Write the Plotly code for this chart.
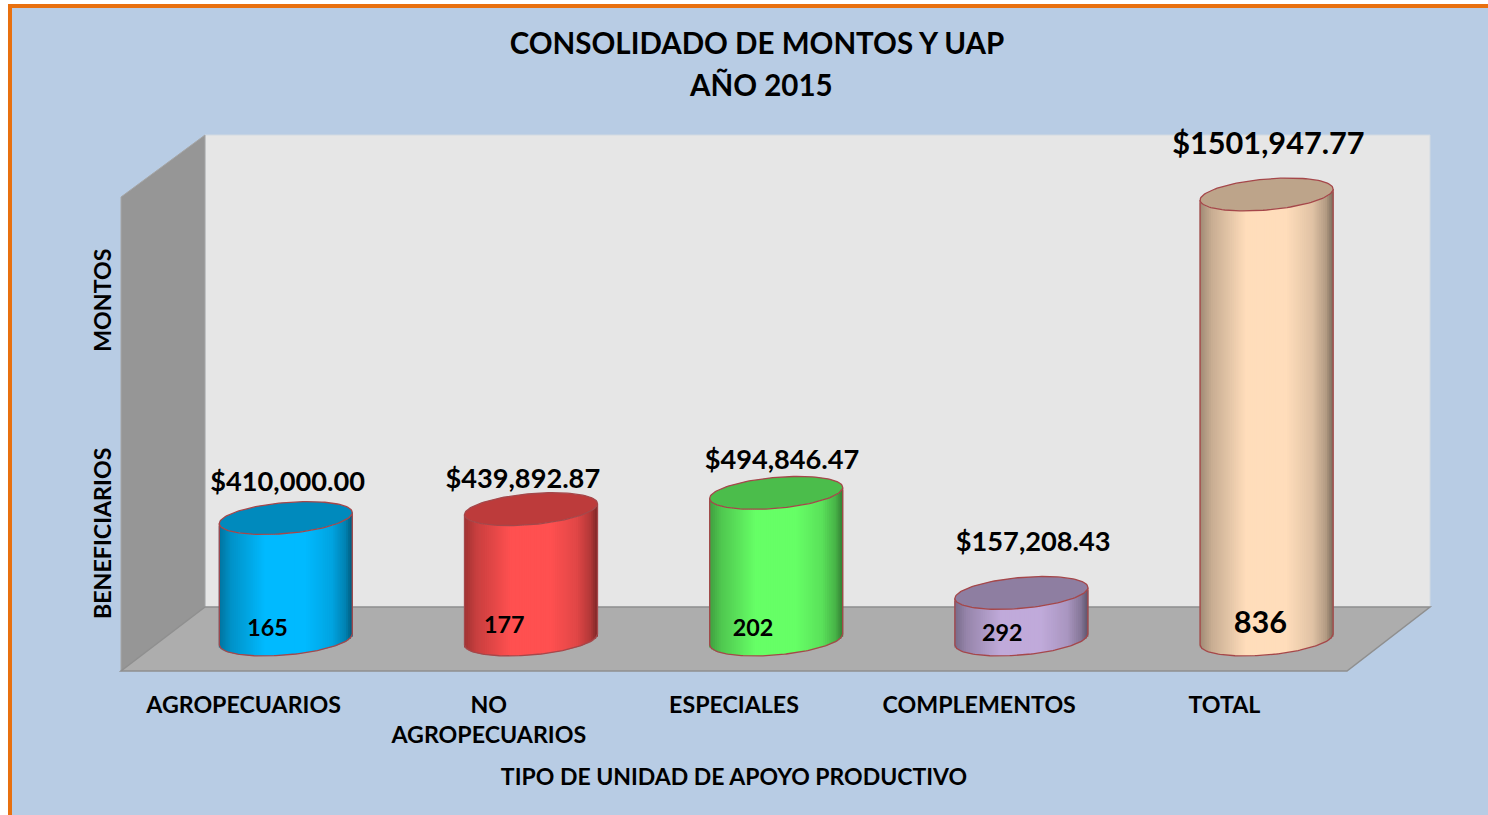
import plotly.graph_objects as go
import numpy as np

# ---- data ----
categories = ["AGROPECUARIOS", "NO<br>AGROPECUARIOS", "ESPECIALES", "COMPLEMENTOS", "TOTAL"]
montos = [410000.00, 439892.87, 494846.47, 157208.43, 1501947.77]
monto_labels = ["$410,000.00", "$439,892.87", "$494,846.47", "$157,208.43", "$1501,947.77"]
beneficiarios = [165, 177, 202, 292, 836]

# ---- styles ----
body_colors = [(0, 186, 255), (255, 80, 80), (102, 255, 102), (192, 170, 218), (255, 221, 187)]
OUTLINE = "#A5474A"
FONT = "Lato"

# ---- page geometry (pixels) ----
W, H = 1488, 815
PL, PR, PT, PB = 121, 1347, 135, 671      # plot area
PX_PER_CAT = (PR - PL) / 5
PX_PER_VAL = 445 / 1501947.77
BASE_PX = 639.5                            # pixel row of value 0
y_min = -(PB - BASE_PX) / PX_PER_VAL
y_max = (BASE_PX - PT) / PX_PER_VAL

def px(v):
    return (v - PL) / (PR - PL)
def py(v):
    return (PB - v) / (PB - PT)
def dxv(p):
    return p / PX_PER_CAT
def dyv(p):
    return p / PX_PER_VAL

# cylinder look
CYL_SHIFT = 42.2      # px right of the category centre (3-D depth)
A, B, TILT = 66.5, 15.5, 5.5

def shade(u):
    return np.interp(u, [-1, -0.82, -0.3, 0.3, 0.7, 0.9, 1], [0.62, 0.78, 1, 1, 0.88, 0.7, 0.5])

def rgb(c, f=1.0):
    return "rgb(%d,%d,%d)" % tuple(int(round(v * f)) for v in c)

def front(u):
    """vertical offset (px, up) of the front rim at relative position u"""
    return TILT * u - B * np.sqrt(np.clip(1 - u * u, 0, 1))

fig = go.Figure()
t = np.linspace(0, 2 * np.pi, 121)
N = 70
strip_u = (np.arange(N) + 0.5) / N * 2 - 1

for i, val in enumerate(montos):
    cx = i + dxv(CYL_SHIFT)
    # shaded body: many thin upright bars
    xs = cx + dxv(A * strip_u)
    bases = dyv(front(strip_u))
    fig.add_trace(go.Bar(
        x=xs, y=[val] * N, base=bases,
        width=[dxv(2 * A / N * 1.5)] * N,
        marker=dict(color=[rgb(body_colors[i], shade(u)) for u in strip_u], line=dict(width=0)),
        cliponaxis=False, hoverinfo="skip", showlegend=False,
    ))
    # silhouette outline
    uu = np.linspace(-1, 1, 81)
    sx = np.concatenate([[cx - dxv(A)], cx + dxv(A * uu), [cx + dxv(A)]])
    sy = np.concatenate([[val - dyv(TILT)], dyv(front(uu)), [val + dyv(TILT)]])
    fig.add_trace(go.Scatter(
        x=sx, y=sy, mode="lines", line=dict(color=OUTLINE, width=1.3),
        cliponaxis=False, hoverinfo="skip", showlegend=False,
    ))
    # top cap
    ex = A * np.cos(t)
    ey = TILT * np.cos(t) + B * np.sin(t)
    fig.add_trace(go.Scatter(
        x=cx + dxv(ex), y=val + dyv(ey), mode="lines", fill="toself",
        fillcolor=rgb(body_colors[i], 0.74), line=dict(color=OUTLINE, width=1.3),
        cliponaxis=False, hoverinfo="skip", showlegend=False,
    ))

# monto labels, placed relative to the top of each cylinder
label_dx = [44, 34, 48, 54, 44]
label_dy = [33.5, 28, 31, 48.5, 48.5]
label_size = [27.2, 27.2, 27.2, 27.2, 30.7]
fig.add_trace(go.Scatter(
    x=[i + dxv(d) for i, d in enumerate(label_dx)],
    y=[v + dyv(d) for v, d in zip(montos, label_dy)],
    mode="text", text=monto_labels, textposition="middle center",
    textfont=dict(family=FONT, size=label_size, color="black", weight=700),
    cliponaxis=False, hoverinfo="skip", showlegend=False,
))

# beneficiary labels
inner_dx = [24, 15.5, 19, 23, 36]
inner_py = [630, 627.5, 630, 635, 625]
inner_size = [23.3, 23.3, 23.3, 23.3, 30.7]
fig.add_trace(go.Scatter(
    x=[i + dxv(d) for i, d in enumerate(inner_dx)],
    y=[(BASE_PX - p) / PX_PER_VAL for p in inner_py],
    mode="text", text=[str(b) for b in beneficiarios], textposition="middle center",
    textfont=dict(family=FONT, size=inner_size, color="black", weight=700),
    cliponaxis=False, hoverinfo="skip", showlegend=False,
))

def poly(points, fill, line=None, lw=0):
    path = "M " + " L ".join(f"{px(a):.5f},{py(b):.5f}" for a, b in points) + " Z"
    return dict(type="path", xref="paper", yref="paper", path=path, fillcolor=fill,
                line=dict(color=line or fill, width=lw), layer="below")

shapes = [
    poly([(8, 4), (W + 5, 4), (W + 5, H + 5), (8, H + 5)], "#E8700F"),
    poly([(12, 8), (W + 5, 8), (W + 5, H + 5), (12, H + 5)], "#B8CCE4"),
    poly([(205, 135), (1430, 135), (1430, 607), (205, 607)], "#E6E6E6", "#D2DAE2", 1),
    poly([(121, 197), (205, 135), (205, 607), (121, 671)], "#969696", "#A6A6A6", 1),
    poly([(205, 607), (1430, 607), (1347, 671), (121, 671)], "#ADADAD", "#8F8F8F", 1.5),
]

TITLE_FONT = dict(family=FONT, size=29.5, color="black", weight=700)
AXIS_FONT = dict(family=FONT, size=23.2, color="black", weight=700)
XTITLE_FONT = dict(family=FONT, size=23, color="black", weight=700)

annotations = [
    dict(text="AÑO 2015", x=px(761), y=py(85), xref="paper", yref="paper",
         xanchor="center", yanchor="middle", showarrow=False, font=TITLE_FONT),
    dict(text="BENEFICIARIOS" + "&nbsp;" * 17 + "MONTOS", x=px(102), y=py(434),
         xref="paper", yref="paper", xanchor="center", yanchor="middle",
         textangle=-90, showarrow=False, font=AXIS_FONT),
]

fig.update_layout(
    width=W, height=H,
    margin=dict(l=PL, r=W - PR, t=PT, b=H - PB, autoexpand=False),
    paper_bgcolor="white", plot_bgcolor="rgba(0,0,0,0)",
    barmode="overlay", showlegend=False, shapes=shapes, annotations=annotations,
    font=dict(family=FONT, color="black"),
    title=dict(
        text="CONSOLIDADO DE MONTOS Y UAP",
        x=757 / W, xanchor="center", y=1 - 43.5 / H, yanchor="middle", yref="container",
        font=TITLE_FONT,
    ),
    xaxis=dict(
        range=[-0.5, 4.5], tickmode="array", tickvals=list(range(5)), ticktext=categories,
        tickfont=AXIS_FONT,
        ticks="", showgrid=False, zeroline=False, showline=False, ticklabelstandoff=18,
        title=dict(text="TIPO DE UNIDAD DE APOYO PRODUCTIVO", standoff=21, font=XTITLE_FONT),
    ),
    yaxis=dict(
        range=[y_min, y_max], showticklabels=False, ticks="", showgrid=False,
        zeroline=False, showline=False,
    ),
)

fig.write_html("out.html", config={"displayModeBar": False},
               post_script="document.body.style.margin='0';document.body.style.overflow='hidden';")
